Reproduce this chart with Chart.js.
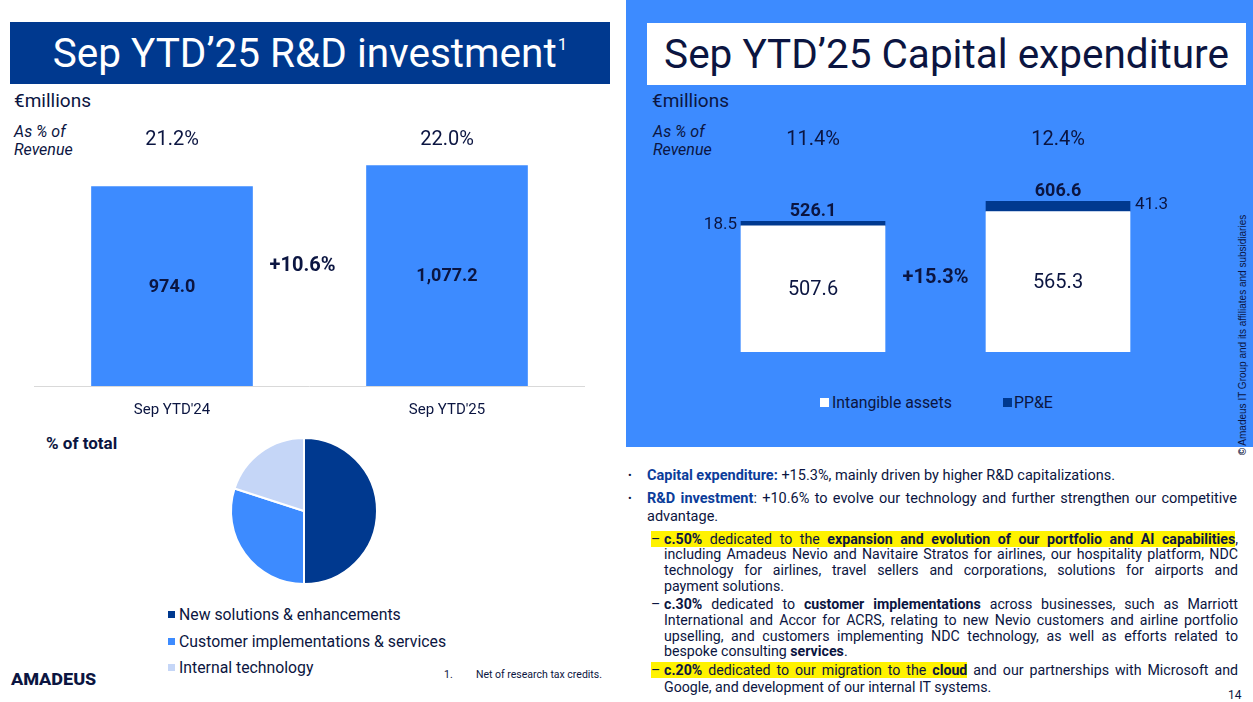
<!DOCTYPE html>
<html><head><meta charset="utf-8">
<script src="https://cdn.jsdelivr.net/npm/chart.js@4.4.0/dist/chart.umd.min.js"></script>
<style>
html,body{margin:0;padding:0;}
body{width:1253px;height:702px;position:relative;overflow:hidden;background:#fff;font-family:Roboto,"Liberation Sans",sans-serif;color:#0b1541;}
.abs{position:absolute;white-space:nowrap;}
#rightPanel{position:absolute;left:626px;top:0;width:627px;height:447px;background:#3d8bff;}
.title{position:absolute;height:62px;line-height:62px;text-align:center;font-size:40.5px;white-space:nowrap;}
.title .sup{font-size:17px;position:relative;top:-17px;margin-left:1px;}
.unit{font-size:19px;line-height:22px;}
.asp{font-size:16px;font-style:italic;line-height:18px;}
canvas{position:absolute;}
.leg{font-size:15.8px;line-height:20px;}
.sq{position:absolute;}
.ln{position:absolute;height:16px;line-height:16px;font-size:14.2px;}
.mn{font-size:14.5px;}
.j{text-align:justify;text-align-last:justify;}
.hl{background:#fff200;}
.d{display:inline-block;width:13px;text-align:left;}
.bb{font-weight:bold;color:#0c3d9a;}
</style></head>
<body>
<div id="rightPanel"></div>

<div class="title" style="left:10px;top:22px;width:600px;background:#00398f;color:#fff;">Sep YTD’25 R&amp;D investment<span class="sup">1</span></div>
<div class="title" style="left:647px;top:23px;width:599px;background:#fff;color:#0b1541;">Sep YTD’25 Capital expenditure</div>

<div class="abs unit" style="left:14px;top:90px;">€millions</div>
<div class="abs asp" style="left:14px;top:123px;">As % of</div>
<div class="abs asp" style="left:14px;top:141px;">Revenue</div>

<div class="abs unit" style="left:652px;top:90px;">€millions</div>
<div class="abs asp" style="left:653px;top:123px;">As % of</div>
<div class="abs asp" style="left:653px;top:141px;">Revenue</div>

<canvas id="rdChart" width="620" height="320" style="left:0;top:110px;"></canvas>
<canvas id="capexChart" width="600" height="270" style="left:626px;top:110px;"></canvas>
<canvas id="pieChart" width="160" height="160" style="left:224px;top:431px;"></canvas>

<div id="capexLegend"></div>
<div id="pieLegend"></div>

<div class="abs" style="left:46px;top:433px;font-size:17px;line-height:20px;font-weight:bold;">% of total</div>

<div class="abs" style="left:11px;top:666px;font-size:21px;line-height:24px;font-weight:bold;font-variant-caps:all-small-caps;letter-spacing:0px;">amadeus</div>
<div class="abs" style="left:444px;top:669px;font-size:10.5px;line-height:12px;">1.</div>
<div class="abs" style="left:476px;top:669px;font-size:10.5px;line-height:12px;">Net of research tax credits.</div>
<div class="abs" style="left:1228px;top:688px;font-size:12px;line-height:14px;">14</div>

<div class="abs" style="left:1118px;top:329px;width:250px;height:12px;line-height:12px;text-align:center;font-family:'Liberation Sans',sans-serif;font-size:10px;transform:rotate(-90deg);color:#0b1541;"><b>©</b> Amadeus IT Group and its affiliates and subsidiaries</div>

<!-- commentary -->
<div class="abs" style="left:628px;top:468px;font-size:11px;line-height:16px;">•</div>
<div class="ln mn" style="left:647px;top:468px;white-space:nowrap;"><span class="bb">Capital expenditure:</span> +15.3%, mainly driven by higher R&amp;D capitalizations.</div>
<div class="abs" style="left:628px;top:491px;font-size:11px;line-height:16px;">•</div>
<div class="ln mn j" style="left:647px;top:491px;width:590px;"><span class="bb">R&amp;D investment</span>: +10.6% to evolve our technology and further strengthen our competitive</div>
<div class="ln mn" style="left:647px;top:509px;white-space:nowrap;">advantage.</div>

<div class="ln j" style="left:651px;top:531px;width:587px;"><span class="hl"><span class="d">–</span><b>c.50%</b> dedicated to the <b>expansion and evolution of our portfolio and AI capabilities</b></span>,</div>
<div class="ln j" style="left:664px;top:546px;width:574px;">including Amadeus Nevio and Navitaire Stratos for airlines, our hospitality platform, NDC</div>
<div class="ln j" style="left:664px;top:562px;width:574px;">technology for airlines, travel sellers and corporations, solutions for airports and</div>
<div class="ln" style="left:664px;top:578px;white-space:nowrap;">payment solutions.</div>

<div class="ln j" style="left:651px;top:596px;width:587px;"><span class="d">–</span><b>c.30%</b> dedicated to <b>customer implementations</b> across businesses, such as Marriott</div>
<div class="ln j" style="left:664px;top:612px;width:574px;">International and Accor for ACRS, relating to new Nevio customers and airline portfolio</div>
<div class="ln j" style="left:664px;top:628px;width:574px;">upselling, and customers implementing NDC technology, as well as efforts related to</div>
<div class="ln" style="left:664px;top:643px;white-space:nowrap;">bespoke consulting <b>services</b>.</div>

<div class="ln j" style="left:651px;top:662px;width:587px;"><span class="hl"><span class="d">–</span><b>c.20%</b> dedicated to our migration to the <b>cloud</b></span> and our partnerships with Microsoft and</div>
<div class="ln" style="left:664px;top:679px;white-space:nowrap;">Google, and development of our internal IT systems.</div>

<script>
// ---- data ----
const rdCategories = ["Sep YTD'24", "Sep YTD'25"];
const rdValues = [974.0, 1077.2];
const rdPctRevenue = ["21.2%", "22.0%"];
const rdGrowth = "+10.6%";

const capexCategories = ["Sep YTD'24", "Sep YTD'25"];
const capexIntangible = [507.6, 565.3];
const capexPPE = [18.5, 41.3];
const capexPctRevenue = ["11.4%", "12.4%"];
const capexGrowth = "+15.3%";
const capexSeries = ["Intangible assets", "PP&E"];

const pieLabels = ["New solutions & enhancements", "Customer implementations & services", "Internal technology"];
const pieValues = [50, 30, 20];

// ---- styles ----
const NAVY = '#0b1541';
const DARK_BLUE = '#00398f';
const BRIGHT = '#3d8bff';
const LIGHT = '#c5d6f7';
const FONT = 'Roboto';

Chart.defaults.font.family = FONT;
Chart.defaults.color = NAVY;

const fmt1 = v => v.toLocaleString('en-US', {minimumFractionDigits: 1, maximumFractionDigits: 1});

const rdLabelPlugin = {
  id: 'rdLabels',
  afterDatasetsDraw(chart) {
    const ctx = chart.ctx;
    const meta = chart.getDatasetMeta(0);
    ctx.save();
    ctx.fillStyle = NAVY;
    ctx.textAlign = 'center';
    ctx.textBaseline = 'middle';
    meta.data.forEach((bar, i) => {
      ctx.font = 'bold 18px ' + FONT;
      ctx.fillText(fmt1(rdValues[i]), bar.x, (bar.y + bar.base) / 2 + 1);
      ctx.font = '20px ' + FONT;
      ctx.fillText(rdPctRevenue[i], bar.x, 30);
    });
    ctx.font = 'bold 20px ' + FONT;
    ctx.fillText(rdGrowth, (meta.data[0].x + meta.data[1].x) / 2 - 7, 156);
    ctx.restore();
  }
};

new Chart(document.getElementById('rdChart'), {
  type: 'bar',
  data: {
    labels: rdCategories,
    datasets: [{ data: rdValues, backgroundColor: BRIGHT, borderWidth: 0, barThickness: 161 }]
  },
  options: {
    responsive: false,
    animation: false,
    layout: { padding: { left: 34.5, right: 35.5, top: 10, bottom: 0 } },
    plugins: { legend: { display: false }, tooltip: { enabled: false } },
    scales: {
      x: {
        grid: { display: false },
        border: { display: true, color: '#d9d9d9', width: 1 },
        ticks: { color: NAVY, font: { size: 15 }, padding: 7 },
        afterFit: s => { s.height = 44; }
      },
      y: { display: false, min: 0, max: 1300 }
    }
  },
  plugins: [rdLabelPlugin]
});

const capexLabelPlugin = {
  id: 'capexLabels',
  afterDatasetsDraw(chart) {
    const ctx = chart.ctx;
    const mI = chart.getDatasetMeta(0), mP = chart.getDatasetMeta(1);
    ctx.save();
    ctx.fillStyle = NAVY;
    ctx.textBaseline = 'middle';
    mI.data.forEach((bar, i) => {
      const pp = mP.data[i];
      ctx.textAlign = 'center';
      ctx.font = '20px ' + FONT;
      ctx.fillText(fmt1(capexIntangible[i]), bar.x, (bar.y + bar.base) / 2 + 1);
      ctx.fillText(capexPctRevenue[i], bar.x, 30);
      ctx.font = 'bold 18px ' + FONT;
      ctx.fillText(fmt1(capexIntangible[i] + capexPPE[i]), bar.x, pp.y - 10);
      ctx.font = '17px ' + FONT;
      const half = pp.width / 2;
      const yMid = (pp.y + pp.base) / 2;
      if (i === 0) {
        ctx.textAlign = 'right';
        ctx.fillText(fmt1(capexPPE[i]), bar.x - half - 4, yMid + 1);
      } else {
        ctx.textAlign = 'left';
        ctx.fillText(fmt1(capexPPE[i]), bar.x + half + 5, yMid - 2);
      }
    });
    ctx.textAlign = 'center';
    ctx.font = 'bold 20px ' + FONT;
    ctx.fillText(capexGrowth, (mI.data[0].x + mI.data[1].x) / 2, 168);
    ctx.restore();
  }
};

const capexColors = ['#ffffff', DARK_BLUE];
new Chart(document.getElementById('capexChart'), {
  type: 'bar',
  data: {
    labels: capexCategories,
    datasets: [
      { label: capexSeries[0], data: capexIntangible, backgroundColor: capexColors[0], borderWidth: 0, barThickness: 144 },
      { label: capexSeries[1], data: capexPPE, backgroundColor: capexColors[1], borderWidth: 0, barThickness: 144 }
    ]
  },
  options: {
    responsive: false,
    animation: false,
    layout: { padding: { left: 64.5, right: 45.5, top: 68, bottom: 28 } },
    plugins: { legend: { display: false }, tooltip: { enabled: false } },
    scales: {
      x: { display: false, stacked: true },
      y: { display: false, stacked: true, min: 0, max: 700 }
    }
  },
  plugins: [capexLabelPlugin]
});

const pieColors = [DARK_BLUE, BRIGHT, LIGHT];
new Chart(document.getElementById('pieChart'), {
  type: 'pie',
  data: {
    labels: pieLabels,
    datasets: [{ data: pieValues, backgroundColor: pieColors, borderColor: '#ffffff', borderWidth: 2 }]
  },
  options: {
    responsive: false,
    animation: false,
    layout: { padding: 6 },
    plugins: { legend: { display: false }, tooltip: { enabled: false } }
  }
});

// HTML legends
const capexLeg = document.getElementById('capexLegend');
const capexLegPos = [[820, 832], [1003, 1014]];
capexSeries.forEach((s, i) => {
  const sq = document.createElement('div');
  sq.className = 'sq';
  sq.style.cssText = `left:${capexLegPos[i][0]}px;top:398px;width:9px;height:9px;background:${capexColors[i]};`;
  capexLeg.appendChild(sq);
  const t = document.createElement('div');
  t.className = 'abs leg';
  t.style.cssText = `left:${capexLegPos[i][1]}px;top:393px;`;
  t.textContent = s;
  capexLeg.appendChild(t);
});

const pieLeg = document.getElementById('pieLegend');
const pieLegTops = [605, 631.5, 658];
pieLabels.forEach((s, i) => {
  const sq = document.createElement('div');
  sq.className = 'sq';
  sq.style.cssText = `left:168px;top:${pieLegTops[i] + 6}px;width:7px;height:7px;background:${pieColors[i]};`;
  pieLeg.appendChild(sq);
  const t = document.createElement('div');
  t.className = 'abs leg';
  t.style.cssText = `left:179px;top:${pieLegTops[i]}px;`;
  t.textContent = s;
  pieLeg.appendChild(t);
});
</script>
</body></html>
